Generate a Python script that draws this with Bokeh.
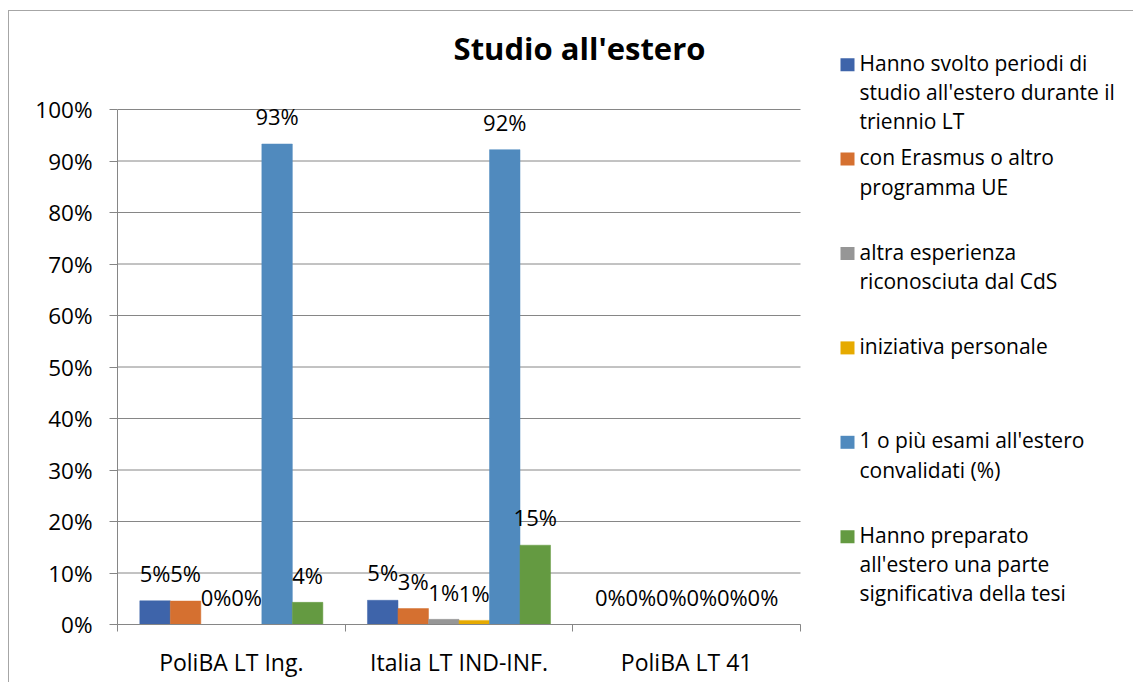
from bokeh.plotting import figure
from bokeh.models import ColumnDataSource, Range1d, FixedTicker, NumeralTickFormatter
from bokeh.embed import file_html
from bokeh.resources import INLINE
from bokeh.core.properties import value

# ---------------- data ----------------
categories = ["PoliBA LT Ing.", "Italia LT IND-INF.", "PoliBA LT 41"]

legend_lines = [
    ["Hanno svolto periodi di", "studio all'estero durante il", "triennio LT"],
    ["con Erasmus o altro", "programma UE"],
    ["altra esperienza", "riconosciuta dal CdS"],
    ["iniziativa personale"],
    ["1 o più esami all'estero", "convalidati (%)"],
    ["Hanno preparato", "all'estero una parte", "significativa della tesi"],
]
colors = ["#3E64AA", "#D57030", "#969696", "#E6AA00", "#508ABE", "#649A41"]

s_periodi = [0.046, 0.047, 0.0]
s_erasmus = [0.0455, 0.031, 0.0]
s_altra = [0.0, 0.010, 0.0]
s_iniziativa = [0.0, 0.008, 0.0]
s_esami = [0.933, 0.922, 0.0]
s_tesi = [0.043, 0.154, 0.0]
series = [s_periodi, s_erasmus, s_altra, s_iniziativa, s_esami, s_tesi]

y_ticks = [0.0, 0.1, 0.2, 0.3, 0.4, 0.5, 0.6, 0.7, 0.8, 0.9, 1.0]
title_text = "Studio all'estero"

# ---------------- layout (page pixels) ----------------
FONT = "Open Sans"
GRID = "#868686"
BORDER = "#a6a6a6"
TXT = "#000000"
BASE_SHIFT = 0.4  # em, compensates the renderer's alphabetic baseline

HOST_X, HOST_Y = 8, 10
W, H = 1125, 672
CANVAS_L, CANVAS_T = HOST_X + 1, HOST_Y + 1
CANVAS_R, CANVAS_B = CANVAS_L + W, CANVAS_T + H
AX_L, AX_R, AX_T, AX_B = 117, 800, 109, 624  # chart area: 0..3 x 0..1

px_x = (AX_R - AX_L) / 3.0
px_y = (AX_B - AX_T) / 1.0
x_end = (CANVAS_R - AX_L) / px_x
y_end = (AX_B - CANVAS_T) / px_y

p = figure(width=W, height=H, x_range=Range1d(0, x_end), y_range=Range1d(0, y_end),
           output_backend="svg", toolbar_location=None,
           min_border_left=AX_L - CANVAS_L, min_border_right=0,
           min_border_top=0, min_border_bottom=CANVAS_B - AX_B,
           margin=(HOST_Y, 0, 0, HOST_X),
           styles={"border-top": "1px solid " + BORDER, "border-left": "1px solid " + BORDER})
p.outline_line_color = None
p.background_fill_color = "white"
p.border_fill_color = "white"


def dx(xp):
    return (xp - AX_L) / px_x


def dy(yp):
    return (AX_B - yp) / px_y


# grid lines (drawn as segments so they stop at the chart area)
p.xgrid.visible = False
p.ygrid.visible = False
p.segment(x0=[0.0] * len(y_ticks), x1=[3.0] * len(y_ticks), y0=y_ticks, y1=y_ticks,
          line_color=GRID, line_width=1)

# y axis
p.yaxis.ticker = FixedTicker(ticks=y_ticks)
p.yaxis.bounds = (0, 1)
p.yaxis.formatter = NumeralTickFormatter(format="0%")
p.yaxis.axis_line_color = GRID
p.yaxis.major_tick_line_color = GRID
p.yaxis.major_tick_out = 8
p.yaxis.major_tick_in = 0
p.yaxis.minor_tick_line_color = None
p.yaxis.major_label_text_font = FONT
p.yaxis.major_label_text_font_size = "22.5px"
p.yaxis.major_label_text_color = TXT
p.yaxis.major_label_standoff = 17

# x axis
centers = [i + 0.5 for i in range(len(categories))]
p.xaxis.ticker = FixedTicker(ticks=centers, minor_ticks=[float(i) for i in range(len(categories) + 1)])
p.xaxis.bounds = (0, 3)
p.xaxis.major_label_overrides = {c: cat for c, cat in zip(centers, categories)}
p.xaxis.axis_line_color = GRID
p.xaxis.major_tick_line_color = None
p.xaxis.minor_tick_line_color = GRID
p.xaxis.minor_tick_out = 7
p.xaxis.minor_tick_in = 0
p.xaxis.major_label_text_font = FONT
p.xaxis.major_label_text_font_size = "23px"
p.xaxis.major_label_text_color = TXT
p.xaxis.major_label_standoff = 14

# bars + value labels
n = len(series)
bw = 0.134
LBL_SIZE = 22
for i, (vals, col) in enumerate(zip(series, colors)):
    off = (i - (n - 1) / 2.0) * bw
    xs = [c + off for c in centers]
    labels = ["%d%%" % int(v * 100 + 0.5) for v in vals]
    src = ColumnDataSource(dict(x=xs, top=vals, lab=labels))
    p.vbar(x="x", top="top", bottom=0, width=bw, source=src, fill_color=col,
           line_color=col, line_width=0.5)
    p.text(x="x", y="top", text="lab", source=src, text_font=value(FONT),
           text_font_size="%dpx" % LBL_SIZE, text_align="center", text_baseline="alphabetic",
           y_offset=-(19 + BASE_SHIFT * LBL_SIZE), text_color=TXT)

# title
TITLE_SIZE = 31
p.text(x=[dx(579)], y=[dy(60)], text=[title_text], text_font=value(FONT),
       text_font_size="%spx" % TITLE_SIZE, text_font_style="bold", text_align="center",
       text_baseline="alphabetic", y_offset=-BASE_SHIFT * TITLE_SIZE, text_color=TXT)

# legend (manual, inside the canvas area to the right)
LEG_SIZE = 21
first_base = 70.7
entry_step = 94.4
line_step = 29.3
sq_l, sq_r, sq_h = 840, 854, 13
text_x = 859
lx, ly, lt = [], [], []
ql, qr, qt, qb, qc = [], [], [], [], []
for k, (lines, col) in enumerate(zip(legend_lines, colors)):
    base = first_base + k * entry_step
    ql.append(dx(sq_l)); qr.append(dx(sq_r)); qt.append(dy(base - sq_h)); qb.append(dy(base)); qc.append(col)
    for j, ln in enumerate(lines):
        lx.append(dx(text_x)); ly.append(dy(base + j * line_step)); lt.append(ln)
p.quad(left=ql, right=qr, top=qt, bottom=qb, fill_color=qc, line_color=None)
p.text(x=lx, y=ly, text=lt, text_font=value(FONT), text_font_size="%dpx" % LEG_SIZE,
       text_align="left", text_baseline="alphabetic", y_offset=-BASE_SHIFT * LEG_SIZE,
       text_color=TXT)

open("out.html", "w").write(file_html(p, INLINE))
